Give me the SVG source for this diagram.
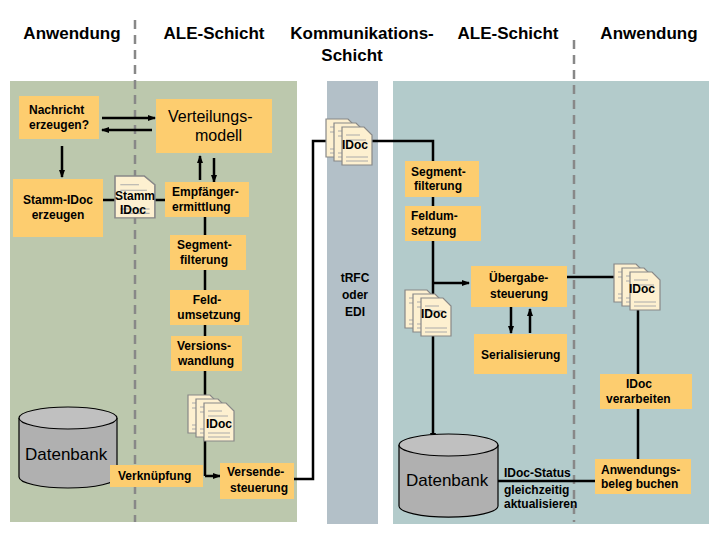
<svg xmlns="http://www.w3.org/2000/svg" width="720" height="540" viewBox="0 0 720 540">
<style>
text{font-family:"Liberation Sans",Arial,sans-serif;font-weight:bold;fill:#000}
.h{font-size:17px;text-anchor:middle}
.b{fill:#fdcd6f}
.t{font-size:12px}
.c{text-anchor:middle}
.ln{stroke:#000;stroke-width:2.5;fill:none}
.dash{stroke:#888;stroke-width:2.5;stroke-dasharray:9,6}
.pg{fill:#fdf0d0;stroke:#888;stroke-width:1.2}
.pl{stroke:#aaa;stroke-width:1}
.db{fill:#b0b0b0;stroke:#000;stroke-width:1.2}
</style>
<defs>
<marker id="a" markerWidth="8" markerHeight="8" refX="7" refY="4" orient="auto" markerUnits="userSpaceOnUse"><path d="M0,1 L8,4 L0,7 Z" fill="#000"/></marker>
<g id="page"><path class="pg" d="M0,0 H22 L30,8 V38 H0 Z"/><path class="pl" d="M4,8 H18 M4,13 H24 M4,30 H26 M4,34 H26"/></g>
<g id="stack"><use href="#page" x="0" y="0"/><use href="#page" x="8" y="4"/><use href="#page" x="16" y="8"/></g>
</defs>
<rect width="720" height="540" fill="#fff"/>
<rect x="10" y="81" width="287" height="441" fill="#bcc8ad"/>
<rect x="327" y="81" width="51" height="443" fill="#b3c0c8"/>
<rect x="393" y="81" width="316" height="443" fill="#b3cbcb"/>
<line class="dash" x1="135" y1="20" x2="135" y2="522"/>
<line class="dash" x1="574" y1="40" x2="574" y2="522"/>
<g id="headers">
<text class="h" x="72" y="39">Anwendung</text>
<text class="h" x="214" y="39">ALE-Schicht</text>
<text class="h" x="362" y="39">Kommunikations-</text>
<text class="h" x="352" y="61">Schicht</text>
<text class="h" x="508" y="39">ALE-Schicht</text>
<text class="h" x="649" y="39">Anwendung</text>
</g>
<g id="connectors">
<line class="ln" x1="102" y1="118" x2="155" y2="118" marker-end="url(#a)"/>
<line class="ln" x1="152" y1="130" x2="102" y2="130" marker-end="url(#a)"/>
<line class="ln" x1="62" y1="146" x2="62" y2="177" marker-end="url(#a)"/>
<line class="ln" x1="200" y1="180" x2="200" y2="156" marker-end="url(#a)"/>
<line class="ln" x1="214" y1="158" x2="214" y2="182" marker-end="url(#a)"/>
<line class="ln" x1="103" y1="200" x2="165" y2="200"/>
<line class="ln" x1="205" y1="217" x2="205" y2="476"/>
<line class="ln" x1="205" y1="476" x2="220" y2="476" marker-end="url(#a)"/>
<line class="ln" x1="110" y1="476" x2="96" y2="476" marker-end="url(#a)"/>
<polyline class="ln" points="294,479 313,479 313,141 330,141"/>
<polyline class="ln" points="370,141 433,141 433,440" marker-end="url(#a)"/>
<line class="ln" x1="433" y1="283" x2="469" y2="283" marker-end="url(#a)"/>
<line class="ln" x1="511" y1="307" x2="511" y2="333" marker-end="url(#a)"/>
<line class="ln" x1="530" y1="333" x2="530" y2="309" marker-end="url(#a)"/>
<line class="ln" x1="567" y1="277" x2="616" y2="277"/>
<line class="ln" x1="638" y1="307" x2="638" y2="459"/>
<line class="ln" x1="498" y1="481" x2="595" y2="481"/>
</g>
<g id="nachricht"><rect class="b" x="19" y="96" width="80" height="43"/><text class="t" x="29" y="114">Nachricht</text><text class="t" x="29" y="129">erzeugen?</text></g>
<g id="verteilung"><rect class="b" x="156" y="99" width="116" height="54"/><text x="168" y="122" style="font-size:16px;font-weight:normal">Verteilungs-</text><text x="195" y="141" style="font-size:16px;font-weight:normal">modell</text></g>
<g id="stammerz"><rect class="b" x="13" y="179" width="90" height="58"/><text class="t c" x="58" y="204">Stamm-IDoc</text><text class="t c" x="58" y="219">erzeugen</text></g>
<g id="stammdoc"><use href="#page" x="0" y="0" transform="translate(115,176) scale(1.33,1.1)"/><text class="t" x="115" y="200">Stamm</text><text class="t" x="120" y="214">IDoc</text></g>
<g id="empf"><rect class="b" x="165" y="182" width="84" height="35"/><text class="t" x="172" y="196">Empfänger-</text><text class="t" x="172" y="211">ermittlung</text></g>
<g id="seg1"><rect class="b" x="170" y="235" width="76" height="35"/><text class="t" x="177" y="249">Segment-</text><text class="t" x="180" y="264">filterung</text></g>
<g id="feld1"><rect class="b" x="170" y="290" width="79" height="35"/><text class="t c" x="207" y="304">Feld-</text><text class="t c" x="209" y="319">umsetzung</text></g>
<g id="vers"><rect class="b" x="171" y="336" width="71" height="35"/><text class="t" x="177" y="350">Versions-</text><text class="t" x="178" y="365">wandlung</text></g>
<g id="idoc1"><use href="#stack" x="188" y="395"/><text class="t" x="206" y="428">IDoc</text></g>
<g id="db1"><path class="db" d="M19,418 V477 A49,11 0 0 0 117,477 V418"/><ellipse cx="68" cy="418" rx="49" ry="11" fill="#c0c0c0" stroke="#000" stroke-width="1.2"/><text x="25" y="460" style="font-size:17px;font-weight:normal">Datenbank</text></g>
<g id="verkn"><rect class="b" x="110" y="465" width="93" height="22"/><text class="t" x="118" y="480">Verknüpfung</text></g>
<g id="versende"><rect class="b" x="220" y="463" width="74" height="36"/><text class="t" x="227" y="476">Versende-</text><text class="t" x="230" y="492">steuerung</text></g>
<g id="idoc2"><use href="#stack" x="326" y="119"/><text class="t" x="342" y="149">IDoc</text></g>
<g id="trfc"><text class="t c" x="355" y="282">tRFC</text><text class="t c" x="355" y="299">oder</text><text class="t c" x="355" y="316">EDI</text></g>
<g id="seg2"><rect class="b" x="405" y="161" width="74" height="36"/><text class="t" x="411" y="176">Segment-</text><text class="t" x="414" y="190">filterung</text></g>
<g id="feld2"><rect class="b" x="405" y="206" width="76" height="35"/><text class="t" x="411" y="220">Feldum-</text><text class="t" x="411" y="235">setzung</text></g>
<g id="idoc3"><use href="#stack" x="405" y="290"/><text class="t" x="421" y="318">IDoc</text></g>
<g id="uebergabe"><rect class="b" x="471" y="266" width="96" height="41"/><text class="t" x="489" y="282">Übergabe-</text><text class="t" x="490" y="298">steuerung</text></g>
<g id="serial"><rect class="b" x="474" y="334" width="93" height="40"/><text class="t" x="481" y="359">Serialisierung</text></g>
<g id="idoc4"><use href="#stack" x="614" y="264"/><text class="t" x="629" y="293">IDoc</text></g>
<g id="verarb"><rect class="b" x="600" y="374" width="92" height="35"/><text class="t" x="626" y="388">IDoc</text><text class="t" x="606" y="403">verarbeiten</text></g>
<g id="beleg"><rect class="b" x="595" y="459" width="96" height="35"/><text class="t" x="601" y="474">Anwendungs-</text><text class="t" x="601" y="488">beleg buchen</text></g>
<g id="db2"><path class="db" d="M399,445 V506 A49,11 0 0 0 498,506 V445"/><ellipse cx="448.5" cy="445" rx="49.5" ry="11" fill="#c0c0c0" stroke="#000" stroke-width="1.2"/><text x="406" y="486" style="font-size:17px;font-weight:normal">Datenbank</text></g>
<g id="status"><text class="t" x="504" y="477">IDoc-Status</text><text class="t" x="504" y="494">gleichzeitig</text><text class="t" x="504" y="508">aktualisieren</text></g>
</svg>
